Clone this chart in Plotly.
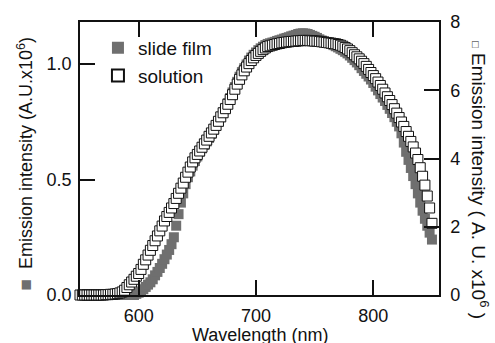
import plotly.graph_objects as go

wavelength = list(range(550, 851, 2))

slide_film = [
    0, 0, 0, 0, 0, 0, 0, 0, 0, 0, 0, 0,
    0, 0, 0, 0, 0, 0, 0, 0, 0, 0, 0, 0,
    0.005, 0.01, 0.015, 0.025, 0.035, 0.045, 0.055, 0.068, 0.085, 0.10,
    0.117, 0.135, 0.155, 0.175, 0.195, 0.22, 0.25, 0.30, 0.35, 0.40,
    0.44, 0.48, 0.51, 0.535, 0.56, 0.58, 0.60, 0.62, 0.635, 0.65,
    0.665, 0.68, 0.698, 0.715, 0.732, 0.75, 0.77, 0.79, 0.81, 0.83,
    0.853, 0.877, 0.90, 0.923, 0.945, 0.965, 0.982, 0.998, 1.015, 1.028,
    1.04, 1.05, 1.06, 1.068, 1.075, 1.082, 1.087, 1.09, 1.093, 1.096,
    1.10, 1.103, 1.106, 1.11, 1.113, 1.116, 1.12, 1.123, 1.126, 1.13,
    1.132, 1.133, 1.132, 1.13, 1.126, 1.122, 1.118, 1.113, 1.107, 1.102,
    1.098, 1.095, 1.092, 1.088, 1.082, 1.077, 1.072, 1.066, 1.06, 1.053,
    1.046, 1.037, 1.027, 1.017, 1.007, 0.995, 0.982, 0.97, 0.958, 0.946,
    0.933, 0.918, 0.902, 0.886, 0.87, 0.855, 0.84, 0.823, 0.806, 0.788,
    0.77, 0.75, 0.73, 0.70, 0.66, 0.62, 0.585, 0.55, 0.515, 0.48,
    0.44, 0.40, 0.365, 0.33, 0.30, 0.27, 0.24,
]

solution = [
    0, 0, 0, 0, 0, 0, 0, 0, 0, 0,
    0.0, 0.01, 0.01, 0.02, 0.02, 0.03, 0.04, 0.06, 0.09, 0.14,
    0.22, 0.30, 0.38, 0.46, 0.55, 0.63, 0.75, 0.90, 1.03, 1.17,
    1.31, 1.45, 1.59, 1.73, 1.88, 2.02, 2.17, 2.30, 2.42, 2.55,
    2.68, 2.83, 2.98, 3.13, 3.28, 3.45, 3.60, 3.75, 3.90, 4.02,
    4.12, 4.22, 4.33, 4.43, 4.54, 4.65, 4.75, 4.86, 4.97, 5.09,
    5.22, 5.34, 5.46, 5.59, 5.73, 5.87, 6.03, 6.18, 6.32, 6.45,
    6.57, 6.68, 6.78, 6.87, 6.95, 7.02, 7.08, 7.14, 7.19, 7.24,
    7.28, 7.30, 7.32, 7.34, 7.36, 7.37, 7.39, 7.40, 7.41, 7.42,
    7.43, 7.43, 7.44, 7.45, 7.45, 7.46, 7.46, 7.46, 7.45, 7.45,
    7.44, 7.44, 7.43, 7.42, 7.41, 7.40, 7.39, 7.38, 7.37, 7.36,
    7.34, 7.32, 7.29, 7.25, 7.21, 7.16, 7.10, 7.04, 6.98, 6.92,
    6.85, 6.78, 6.70, 6.61, 6.52, 6.43, 6.34, 6.24, 6.14, 6.03,
    5.92, 5.81, 5.70, 5.58, 5.46, 5.33, 5.20, 5.07, 4.94, 4.79,
    4.65, 4.50, 4.34, 4.16, 3.97, 3.73, 3.48, 3.22, 2.90, 2.55,
    2.10,
]

assert len(slide_film) == len(wavelength) == len(solution)

left_ticks = [0.0, 0.5, 1.0]
right_ticks = [0, 2, 4, 6, 8]
x_ticks = [600, 700, 800]

GRAY = "#6f6f6f"
FONT = "Liberation Sans, Arial, sans-serif"
TXT = "#111111"

fig = go.Figure()
fig.add_trace(go.Scatter(
    x=wavelength, y=slide_film, mode="markers", name="slide film",
    marker=dict(symbol="square", size=10, color=GRAY, line=dict(width=0)),
    cliponaxis=False, yaxis="y",
))
fig.add_trace(go.Scatter(
    x=wavelength, y=solution, mode="markers", name="solution",
    marker=dict(symbol="square", size=10, color="white",
                line=dict(width=1, color="#111111")),
    cliponaxis=False, yaxis="y2",
))

axis_common = dict(
    showgrid=False, zeroline=False, showline=True, linecolor="#111111",
    linewidth=1.5, ticks="inside", ticklen=15, tickwidth=1.5,
    tickcolor="#111111", tickfont=dict(family=FONT, size=18, color=TXT),
)

fig.update_layout(
    width=495, height=343,
    margin=dict(l=80, r=56, t=16, b=48),
    paper_bgcolor="white", plot_bgcolor="white",
    showlegend=True,
    legend=dict(x=0.05, y=0.975, xanchor="left", yanchor="top",
                bgcolor="rgba(0,0,0,0)", font=dict(family=FONT, size=19, color=TXT),
                tracegroupgap=0, itemsizing="constant"),
    xaxis=dict(range=[550, 856], tickvals=x_ticks, mirror="ticks",
               ticklabelstandoff=4, **axis_common),
    yaxis=dict(range=[0, 1.182], tickvals=left_ticks, tickformat=".1f",
               ticklabelstandoff=3, **axis_common),
    yaxis2=dict(range=[0, 8], tickvals=right_ticks, overlaying="y", side="right",
                ticklabelstandoff=6, **axis_common),
    annotations=[
        dict(text="Wavelength (nm)", xref="paper", yref="paper",
             x=0.5, y=-0.145, xanchor="center", yanchor="middle",
             showarrow=False, font=dict(family=FONT, size=18, color=TXT)),
        dict(text=f'<span style="color:{GRAY};font-size:19px">■</span>&nbsp;&nbsp;Emission intensity (A.U.x10<sup>6</sup>)',
             xref="paper", yref="paper", x=-0.153, y=0.482,
             xanchor="center", yanchor="middle", textangle=-90,
             showarrow=False, font=dict(family=FONT, size=18, color=TXT)),
        dict(text='<span style="font-size:11px">□</span>&nbsp;Emission intensity (&nbsp;A.&nbsp;U.&nbsp;x10<sup>6</sup>&nbsp;)',
             xref="paper", yref="paper", x=1.114, y=0.421,
             xanchor="center", yanchor="middle", textangle=90,
             showarrow=False, font=dict(family=FONT, size=19, color=TXT)),
    ],
)

fig.write_html("out.html")
